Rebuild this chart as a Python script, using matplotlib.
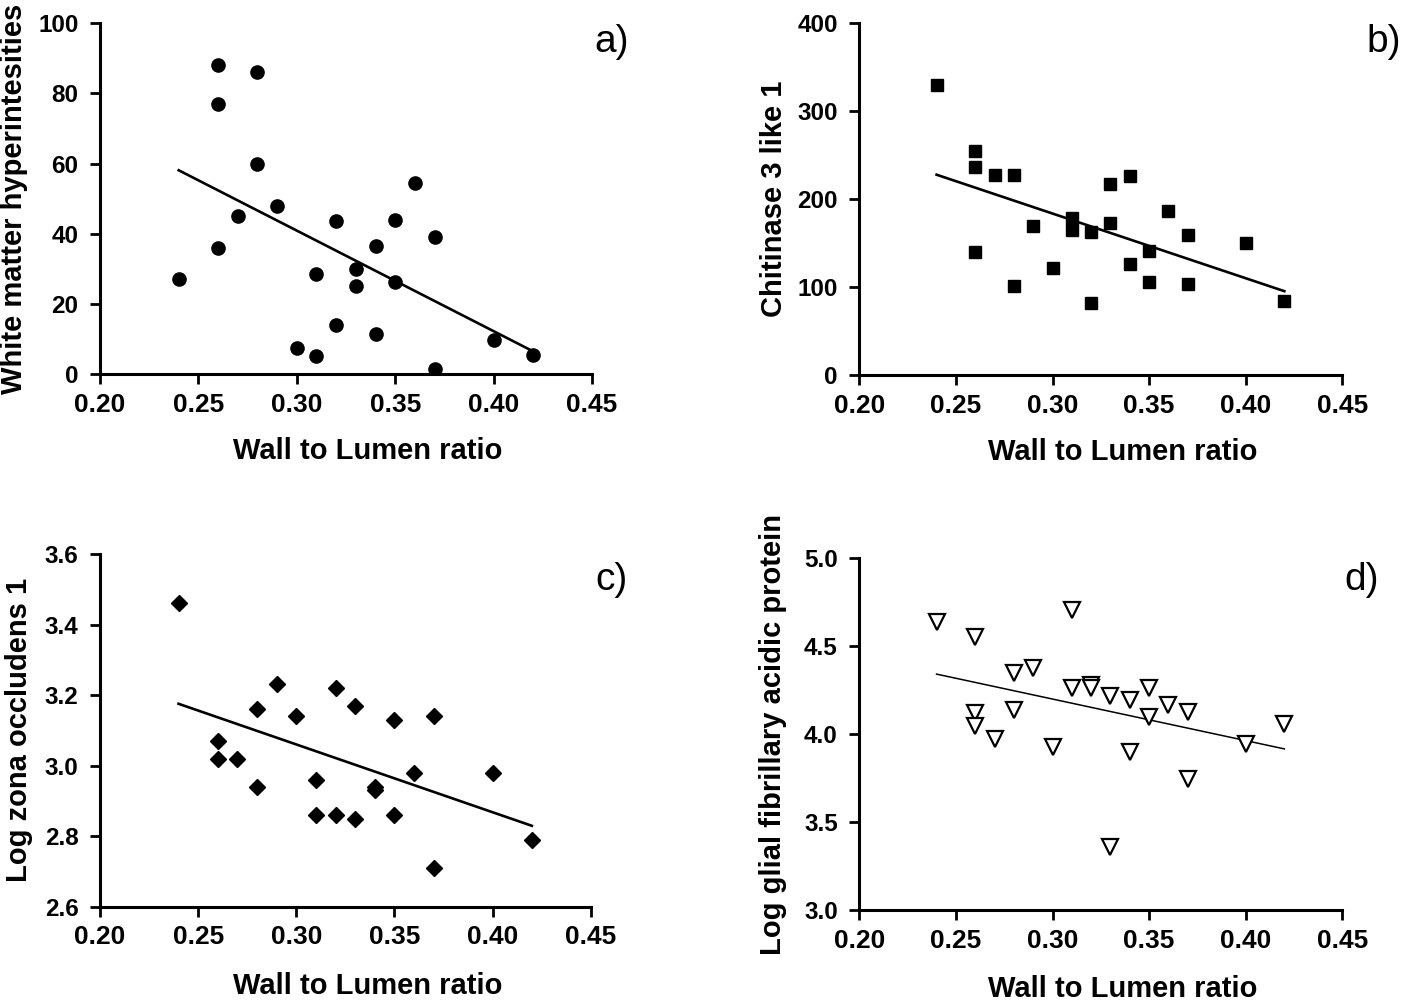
import matplotlib
matplotlib.use('Agg')
import matplotlib.pyplot as plt
import numpy as np

plt.rcParams['font.family'] = ['Liberation Sans', 'DejaVu Sans']

# 벽/내강 비율 (x축)
xa = [0.24, 0.26, 0.26, 0.26, 0.27, 0.28, 0.28, 0.29, 0.30, 0.31, 0.31, 0.32,
      0.32, 0.33, 0.33, 0.34, 0.34, 0.35, 0.35, 0.36, 0.37, 0.37, 0.40, 0.42]
wmh = [27.2, 88.0, 77.0, 36.0, 45.0, 86.0, 60.0, 48.0, 7.5, 28.5, 5.2, 43.5,
       14.0, 30.0, 25.0, 36.5, 11.5, 44.0, 26.2, 54.5, 39.0, 1.5, 9.8, 5.5]

xb = [0.24, 0.26, 0.26, 0.26, 0.27, 0.28, 0.28, 0.29, 0.30, 0.31, 0.31, 0.32,
      0.32, 0.33, 0.33, 0.34, 0.34, 0.35, 0.35, 0.36, 0.37, 0.37, 0.40, 0.42]
chi3l1 = [330, 255, 236, 140, 227, 227, 101, 170, 122, 178, 165, 163,
          82, 217, 173, 226, 126, 141, 106, 187, 159, 104, 150, 84]

xc = [0.24, 0.26, 0.26, 0.27, 0.28, 0.28, 0.29, 0.30, 0.31, 0.31, 0.32, 0.32,
      0.33, 0.33, 0.34, 0.34, 0.35, 0.35, 0.36, 0.37, 0.37, 0.40, 0.42]
zo1 = [3.46, 3.07, 3.02, 3.02, 3.16, 2.94, 3.23, 3.14, 2.96, 2.86, 3.22, 2.86,
       3.17, 2.85, 2.94, 2.93, 3.13, 2.86, 2.98, 3.14, 2.71, 2.98, 2.79]

xd = [0.24, 0.26, 0.26, 0.26, 0.27, 0.28, 0.28, 0.29, 0.30, 0.31, 0.31, 0.32,
      0.32, 0.33, 0.33, 0.34, 0.34, 0.35, 0.35, 0.36, 0.37, 0.37, 0.40, 0.42]
gfap = [4.64, 4.555, 4.12, 4.045, 3.975, 4.345, 4.14, 4.375, 3.925, 4.705, 4.26, 4.28,
        4.265, 4.215, 3.36, 4.195, 3.90, 4.265, 4.10, 4.165, 4.125, 3.745, 3.945, 4.06]

xlabel = 'Wall to Lumen ratio'
xticks = [0.20, 0.25, 0.30, 0.35, 0.40, 0.45]

fig = plt.figure(figsize=(14.18, 10.02), dpi=100)

W = 1418.0
H = 1002.0


def make_axes(left, right, top, bottom):
    return fig.add_axes([left / W, 1 - bottom / H, (right - left) / W, (bottom - top) / H])


def style_axes(ax, ylim, yticks, yfmt, ylabel, tag, tag_xy, xlab_y, ylab_x):
    ax.set_xlim(0.20, 0.45)
    ax.set_ylim(*ylim)
    ax.set_xticks(xticks)
    ax.set_xticklabels(['%.2f' % t for t in xticks])
    ax.set_yticks(yticks)
    ax.set_yticklabels([yfmt % t for t in yticks])
    for s in ['top', 'right']:
        ax.spines[s].set_visible(False)
    for s in ['left', 'bottom']:
        ax.spines[s].set_linewidth(2.2)
    ax.tick_params(direction='out', length=7.5, width=2.0)
    ax.tick_params(axis='x', labelsize=19, pad=6)
    ax.tick_params(axis='y', labelsize=17.5, pad=8)
    for lab in ax.get_xticklabels() + ax.get_yticklabels():
        lab.set_fontweight('bold')
    ax.set_xlabel(xlabel, fontsize=21, fontweight='bold')
    ax.xaxis.set_label_coords(0.545, xlab_y)
    ax.set_ylabel(ylabel, fontsize=21, fontweight='bold')
    ax.yaxis.set_label_coords(ylab_x, 0.5)
    fig.text(tag_xy[0] / W, 1 - tag_xy[1] / H, tag, fontsize=28, ha='left', va='center')


def fit_line(ax, x, y, lw):
    x = np.array(x)
    k, b = np.polyfit(x, y, 1)
    xs = np.array([x.min(), x.max()])
    ax.plot(xs, k * xs + b, color='black', lw=lw, zorder=2)


# a) 백질 고신호
ax = make_axes(100, 592, 23.3, 374)
ax.plot(xa, wmh, 'o', color='black', ms=9.5, zorder=3)
fit_line(ax, xa, wmh, 1.9)
style_axes(ax, (0, 100), [0, 20, 40, 60, 80, 100], '%d', 'White matter hyperintesities',
           'a)', (594, 42), -0.18, -0.146)

# b) 키티나제 3 유사 1
ax = make_axes(859.3, 1342.3, 23.3, 375)
ax.plot(xb, chi3l1, 's', color='black', ms=9, zorder=3)
fit_line(ax, xb, chi3l1, 1.9)
style_axes(ax, (0, 400), [0, 100, 200, 300, 400], '%d', 'Chitinase 3 like 1',
           'b)', (1366, 42), -0.18, -0.148)

# c) 로그 ZO-1
ax = make_axes(100, 590.7, 554, 906.7)
ax.plot(xc, zo1, 'D', color='black', ms=8.3, zorder=3)
fit_line(ax, xc, zo1, 1.9)
style_axes(ax, (2.6, 3.6), [2.6, 2.8, 3.0, 3.2, 3.4, 3.6], '%.1f', 'Log zona occludens 1',
           'c)', (595, 580), -0.185, -0.136)

# d) 로그 GFAP
ax = make_axes(859.3, 1342.3, 558.3, 910)
ax.plot(xd, gfap, 'v', markerfacecolor='white', markeredgecolor='black', mew=1.6, ms=12, zorder=3)
fit_line(ax, xd, gfap, 1.1)
style_axes(ax, (3.0, 5.0), [3.0, 3.5, 4.0, 4.5, 5.0], '%.1f', 'Log glial fibrillary acidic protein',
           'd)', (1344, 580), -0.185, -0.149)

fig.savefig('out.png', dpi=100)
